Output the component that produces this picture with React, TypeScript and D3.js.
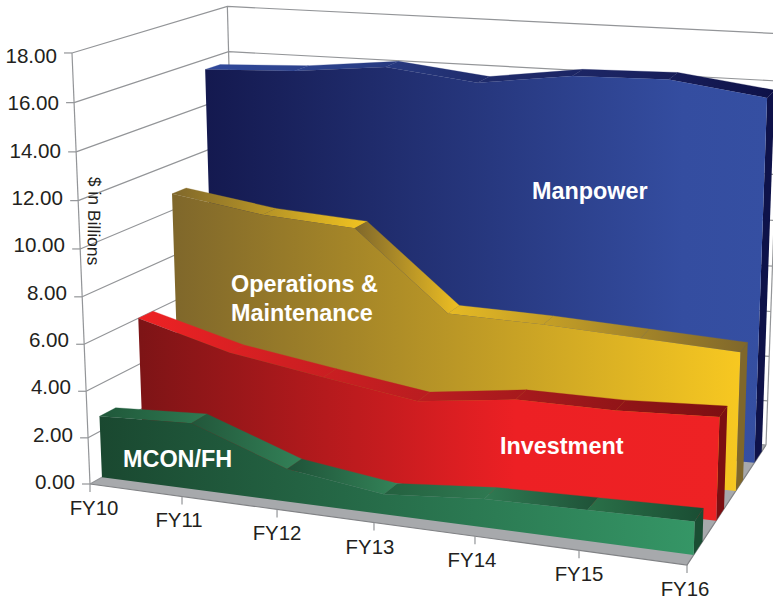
import React from "react";
import * as d3 from "d3";

const years = ["FY10", "FY11", "FY12", "FY13", "FY14", "FY15", "FY16"];
const yTicks = [0, 2, 4, 6, 8, 10, 12, 14, 16, 18];
const manpower = [15.55, 15.7, 16.1, 15.66, 16.2, 16.3, 15.8];
const operations = [10.7, 10.1, 9.84, 6.5, 6.4, 6.2, 6.0];
const investment = [5.99, 4.9, 4.27, 3.67, 4.2, 4.2, 4.4];
const mcon = [2.65, 2.85, 1.4, 0.85, 1.2, 1.3, 1.4];

const uStops = [0, 0.1929, 0.3744, 0.5434, 0.7043, 0.8559, 1];
const yearOffsetX = [4, -3, 0, -4, -3, 0, -2];

type Pt = [number, number];
const A: Pt = [90, 484], B: Pt = [687, 565], C: Pt = [766, 445], D: Pt = [238, 400];

// square -> quad homography for the chart floor
const dx1 = B[0] - C[0], dx2 = D[0] - C[0], sx = A[0] - B[0] + C[0] - D[0];
const dy1 = B[1] - C[1], dy2 = D[1] - C[1], sy = A[1] - B[1] + C[1] - D[1];
const den = dx1 * dy2 - dx2 * dy1;
const g = (sx * dy2 - dx2 * sy) / den;
const h = (dx1 * sy - sx * dy1) / den;
const floorAt = (u: number, w: number): Pt => {
  const W = 1 + g * u + h * w;
  return [
    (A[0] + (B[0] * (1 + g) - A[0]) * u + (D[0] * (1 + h) - A[0]) * w) / W,
    (A[1] + (B[1] * (1 + g) - A[1]) * u + (D[1] * (1 + h) - A[1]) * w) / W,
  ];
};
const K = -0.04056, VY = 10680;
const xScale = d3.scaleLinear<number>().domain(d3.range(years.length)).range(uStops);
const vScale = d3.scaleLinear().domain([0, 18]).range([0, 1]);
const project = (i: number, value: number, w: number): Pt => {
  const u = xScale(i);
  const F = floorAt(u, w);
  const G = 1 - 0.05 * u + 0.1 * w;
  const t = vScale(value);
  const VX = 516 - 120 * u;
  return [
    (F[0] * G + t * K * VX) / (G + t * K),
    (F[1] * G + t * K * VY) / (G + t * K),
  ];
};
const last = years.length - 1;
const poly = (pts: Pt[]) => d3.line()(pts) + "Z";
const labelX = d3.scaleLinear().domain([0, 18]).range([75, 57]);
const labelY = d3.scaleLinear().domain([0, 18]).range([489, 63]);

type Run = { from: number; to: number; stops: string[] };
type Series = {
  id: string; values: number[]; w0: number; w1: number;
  front: [number, string][]; cap: string; runs: Run[];
};
const series: Series[] = [
  {
    id: "man", values: manpower, w0: 0.825, w1: 0.935, cap: "#0e1249",
    front: [[0, "#14194f"], [0.85, "#344da0"], [1, "#354fa2"]],
    runs: [{ from: 0, to: 6, stops: ["#31499b", "#2a3f88", "#1f2b6b", "#1a2260", "#0e1147"] }],
  },
  {
    id: "om", values: operations, w0: 0.57, w1: 0.667, cap: "#7f672b",
    front: [[0, "#7f672b"], [1, "#f7c821"]],
    runs: [
      { from: 0, to: 2, stops: ["#7f672b", "#f2c420"] },
      { from: 2, to: 3, stops: ["#7f672b", "#eebf22"] },
      { from: 3, to: 6, stops: ["#e6ba24", "#7f672b"] },
    ],
  },
  {
    id: "inv", values: investment, w0: 0.325, w1: 0.42, cap: "#7c0f12",
    front: [[0, "#7d1416"], [0.65, "#ed2024"], [1, "#ee2224"]],
    runs: [{ from: 0, to: 6, stops: ["#ee2224", "#d01f22", "#b91d20", "#9a171a", "#7c0f12"] }],
  },
  {
    id: "mc", values: mcon, w0: 0.07, w1: 0.167, cap: "#1a4d33",
    front: [[0, "#1a4830"], [1, "#359666"]],
    runs: [
      { from: 0, to: 1, stops: ["#1f5739", "#2f7a52"] },
      { from: 1, to: 2, stops: ["#22563a", "#338258"] },
      { from: 2, to: 3, stops: ["#1f5238", "#338358"] },
      { from: 3, to: 4, stops: ["#24603f", "#2f7a52"] },
      { from: 4, to: 5, stops: ["#2f7a52", "#1f5238"] },
      { from: 5, to: 6, stops: ["#2a7048", "#1a4d33"] },
    ],
  },
];

const labels: [string, number, number][] = [
  ["Manpower", 532, 199],
  ["Operations &", 231, 292],
  ["Maintenance", 231, 321],
  ["Investment", 500, 454],
  ["MCON/FH", 123, 467],
];

const GRID = "#939598", INK = "#231f20";
const font = "'Liberation Sans', Arial, sans-serif";

export default function App() {
  return (
    <svg width={773} height={599} style={{ position: "absolute", left: 0, top: 0, display: "block" }} fontFamily={font}>
      <defs>
        {series.map((s) => (
          <React.Fragment key={s.id}>
            <linearGradient id={`f-${s.id}`} gradientUnits="userSpaceOnUse"
              x1={project(0, s.values[0], s.w0)[0]} x2={project(last, s.values[last], s.w0)[0]} y1={0} y2={0}>
              {s.front.map(([o, c], i) => <stop key={i} offset={o} stopColor={c} />)}
            </linearGradient>
            {s.runs.map((r, ri) => (
              <linearGradient key={ri} id={`t-${s.id}-${ri}`} gradientUnits="userSpaceOnUse"
                x1={project(r.from, s.values[r.from], s.w0)[0]} x2={project(r.to, s.values[r.to], s.w1)[0]} y1={0} y2={0}>
                {r.stops.map((c, i) => <stop key={i} offset={i / (r.stops.length - 1)} stopColor={c} />)}
              </linearGradient>
            ))}
          </React.Fragment>
        ))}
      </defs>

      {/* floor */}
      <path d={poly([project(0, 0, 0), project(last, 0, 0), project(last, 0, 1), project(0, 0, 1)])} fill="#a7a9ac" />
      <path d={d3.line()([project(0, 0, 0), project(last, 0, 0), project(last, 0, 1)]) as string} fill="none" stroke="#808285" strokeWidth={1.2} />

      {/* walls */}
      {yTicks.map((v) => (
        <g key={v} stroke={GRID} strokeWidth={1.2} fill="none">
          <path d={d3.line()([project(0, v, 0), project(0, v, 1), project(last, v, 1)]) as string} />
          <path d={d3.line()([[project(0, v, 0)[0] - 8, project(0, v, 0)[1]], project(0, v, 0)]) as string} />
        </g>
      ))}
      <g stroke={GRID} strokeWidth={1.2} fill="none">
        <path d={d3.line()([project(0, 0, 0), project(0, 18, 0)]) as string} />
        <path d={d3.line()([project(0, 0, 1), project(0, 18, 1)]) as string} />
        <path d={d3.line()([project(last, 0, 1), project(last, 18, 1)]) as string} />
        {years.map((y, i) => {
          const p = project(i, 0, 0);
          return <path key={y} d={d3.line()([p, [p[0], p[1] + 8]]) as string} />;
        })}
      </g>

      {/* slabs, back to front */}
      {series.map((s) => {
        const frontTop = s.values.map((v, i) => project(i, v, s.w0));
        return (
          <g key={s.id}>
            <path d={poly([project(last, 0, s.w0), project(last, s.values[last], s.w0), project(last, s.values[last], s.w1), project(last, 0, s.w1)])} fill={s.cap} />
            {s.runs.map((r, ri) =>
              d3.range(r.from, r.to).map((i) => (
                <path key={`${ri}-${i}`} fill={`url(#t-${s.id}-${ri})`} stroke={`url(#t-${s.id}-${ri})`} strokeWidth={0.3}
                  d={poly([project(i, s.values[i], s.w0), project(i + 1, s.values[i + 1], s.w0), project(i + 1, s.values[i + 1], s.w1), project(i, s.values[i], s.w1)])} />
              ))
            )}
            <path fill={`url(#f-${s.id})`} d={poly([project(0, 0, s.w0), ...frontTop, project(last, 0, s.w0)])} />
          </g>
        );
      })}

      {/* axis text */}
      {yTicks.map((v) => (
        <text key={v} x={labelX(v)} y={labelY(v)} textAnchor="end" fontSize={20.6} fill={INK}>{v.toFixed(2)}</text>
      ))}
      {years.map((y, i) => {
        const p = project(i, 0, 0);
        return <text key={y} x={p[0] + yearOffsetX[i]} y={p[1] + 31} textAnchor="middle" fontSize={20.4} fill={INK}>{y}</text>;
      })}
      <text transform="translate(88,221) rotate(91)" textAnchor="middle" fontSize={17.5} fill={INK}>$ in Billions</text>

      {labels.map(([t, x, y]) => (
        <text key={t} x={x} y={y} fontSize={23.4} fontWeight="bold" fill="#fff">{t}</text>
      ))}
    </svg>
  );
}
